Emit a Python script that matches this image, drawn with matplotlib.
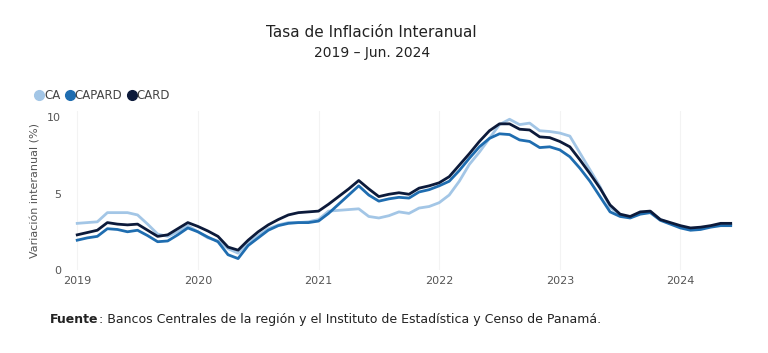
import numpy as np
import matplotlib.pyplot as plt
from matplotlib.lines import Line2D

# Tasa de inflación interanual, mensual ene-2019 a jun-2024
meses = np.arange(66)
anios = ["2019", "2020", "2021", "2022", "2023", "2024"]

ca = [3.05, 3.1, 3.15, 3.75, 3.75, 3.75, 3.6, 3.0, 2.35, 2.2, 2.5, 2.9,
      2.5, 2.1, 1.9, 1.4, 1.1, 1.8, 2.25, 2.7, 2.95, 3.1, 3.1, 3.15,
      3.3, 3.85, 3.9, 3.95, 4.0, 3.5, 3.4, 3.55, 3.8, 3.7, 4.05, 4.15,
      4.4, 4.9, 5.8, 6.9, 7.7, 8.6, 9.5, 9.85, 9.5, 9.6, 9.1, 9.05,
      8.95, 8.75, 7.65, 6.55, 5.45, 4.1, 3.6, 3.45, 3.7, 3.8, 3.3, 3.05,
      2.8, 2.65, 2.7, 2.85, 2.95, 2.95]

capard = [1.95, 2.1, 2.2, 2.7, 2.65, 2.5, 2.6, 2.25, 1.85, 1.9, 2.3, 2.75,
          2.5, 2.15, 1.85, 1.0, 0.75, 1.6, 2.1, 2.6, 2.9, 3.05, 3.1, 3.1,
          3.2, 3.7, 4.3, 4.9, 5.5, 4.9, 4.5, 4.65, 4.75, 4.7, 5.1, 5.25,
          5.5, 5.8, 6.5, 7.3, 8.05, 8.6, 8.9, 8.85, 8.5, 8.4, 8.0, 8.05,
          7.85, 7.4, 6.65, 5.8, 4.8, 3.8, 3.5, 3.4, 3.65, 3.75, 3.25, 3.0,
          2.75, 2.6, 2.65, 2.8, 2.9, 2.9]

card = [2.3, 2.45, 2.6, 3.1, 3.0, 2.95, 3.0, 2.6, 2.2, 2.3, 2.7, 3.1,
        2.85, 2.55, 2.2, 1.5, 1.3, 1.95, 2.5, 2.95, 3.3, 3.6, 3.75, 3.8,
        3.85, 4.3, 4.8, 5.3, 5.85, 5.3, 4.8, 4.95, 5.05, 4.95, 5.35, 5.5,
        5.7, 6.1, 6.85, 7.6, 8.4, 9.1, 9.55, 9.55, 9.2, 9.15, 8.7, 8.65,
        8.4, 8.05, 7.2, 6.3, 5.35, 4.25, 3.65, 3.5, 3.8, 3.85, 3.3, 3.1,
        2.9, 2.75, 2.8, 2.9, 3.05, 3.05]

series = [("CA", ca, "#a3c6e6"), ("CAPARD", capard, "#1f6db0"), ("CARD", card, "#0c1a3a")]

fig = plt.figure(figsize=(7.68, 3.53), dpi=100)
ax = fig.add_axes([0.094, 0.235, 0.864, 0.451])

for nombre, valores, color in series:
    ax.plot(meses, valores, color=color, lw=2, label=nombre, solid_joinstyle="round")

ax.set_xlim(-0.5, 65.5)
ax.set_ylim(0, 10.4)
ax.set_xticks(np.arange(0, 66, 12))
ax.set_xticklabels(anios)
ax.set_yticks([0, 5, 10])
ax.tick_params(length=0, labelsize=8, colors="#555555")
ax.tick_params(axis="y", pad=8)
ax.tick_params(axis="x", pad=4)
ax.grid(axis="x", color="#f3f3f3", lw=0.8)
for s in ax.spines.values():
    s.set_visible(False)
ax.set_ylabel("Variación interanual (%)", fontsize=8, color="#555555", labelpad=5)

# Títulos
fig.text(0.484, 0.895, "Tasa de Inflación Interanual", ha="center", fontsize=11, color="#222222")
fig.text(0.484, 0.838, "2019 – Jun. 2024", ha="center", fontsize=10, color="#222222")

# Leyenda con marcadores circulares
handles = [Line2D([], [], marker="o", ls="", color=c, markersize=7) for _, _, c in series]
ax.legend(handles, [n for n, _, _ in series], loc="lower left", bbox_to_anchor=(-0.062, 1.025),
          ncol=3, frameon=False, fontsize=8.5, handlelength=0.6, handletextpad=0.1,
          columnspacing=0.5, borderaxespad=0, labelcolor="#444444")

# Fuente
fig.text(0.065, 0.085, "Fuente", fontsize=9, color="#222222", weight="bold")
fig.text(0.129, 0.085, ": Bancos Centrales de la región y el Instituto de Estadística y Censo de Panamá.",
         fontsize=9, color="#222222")

fig.savefig("out.png", dpi=100, facecolor="white")
